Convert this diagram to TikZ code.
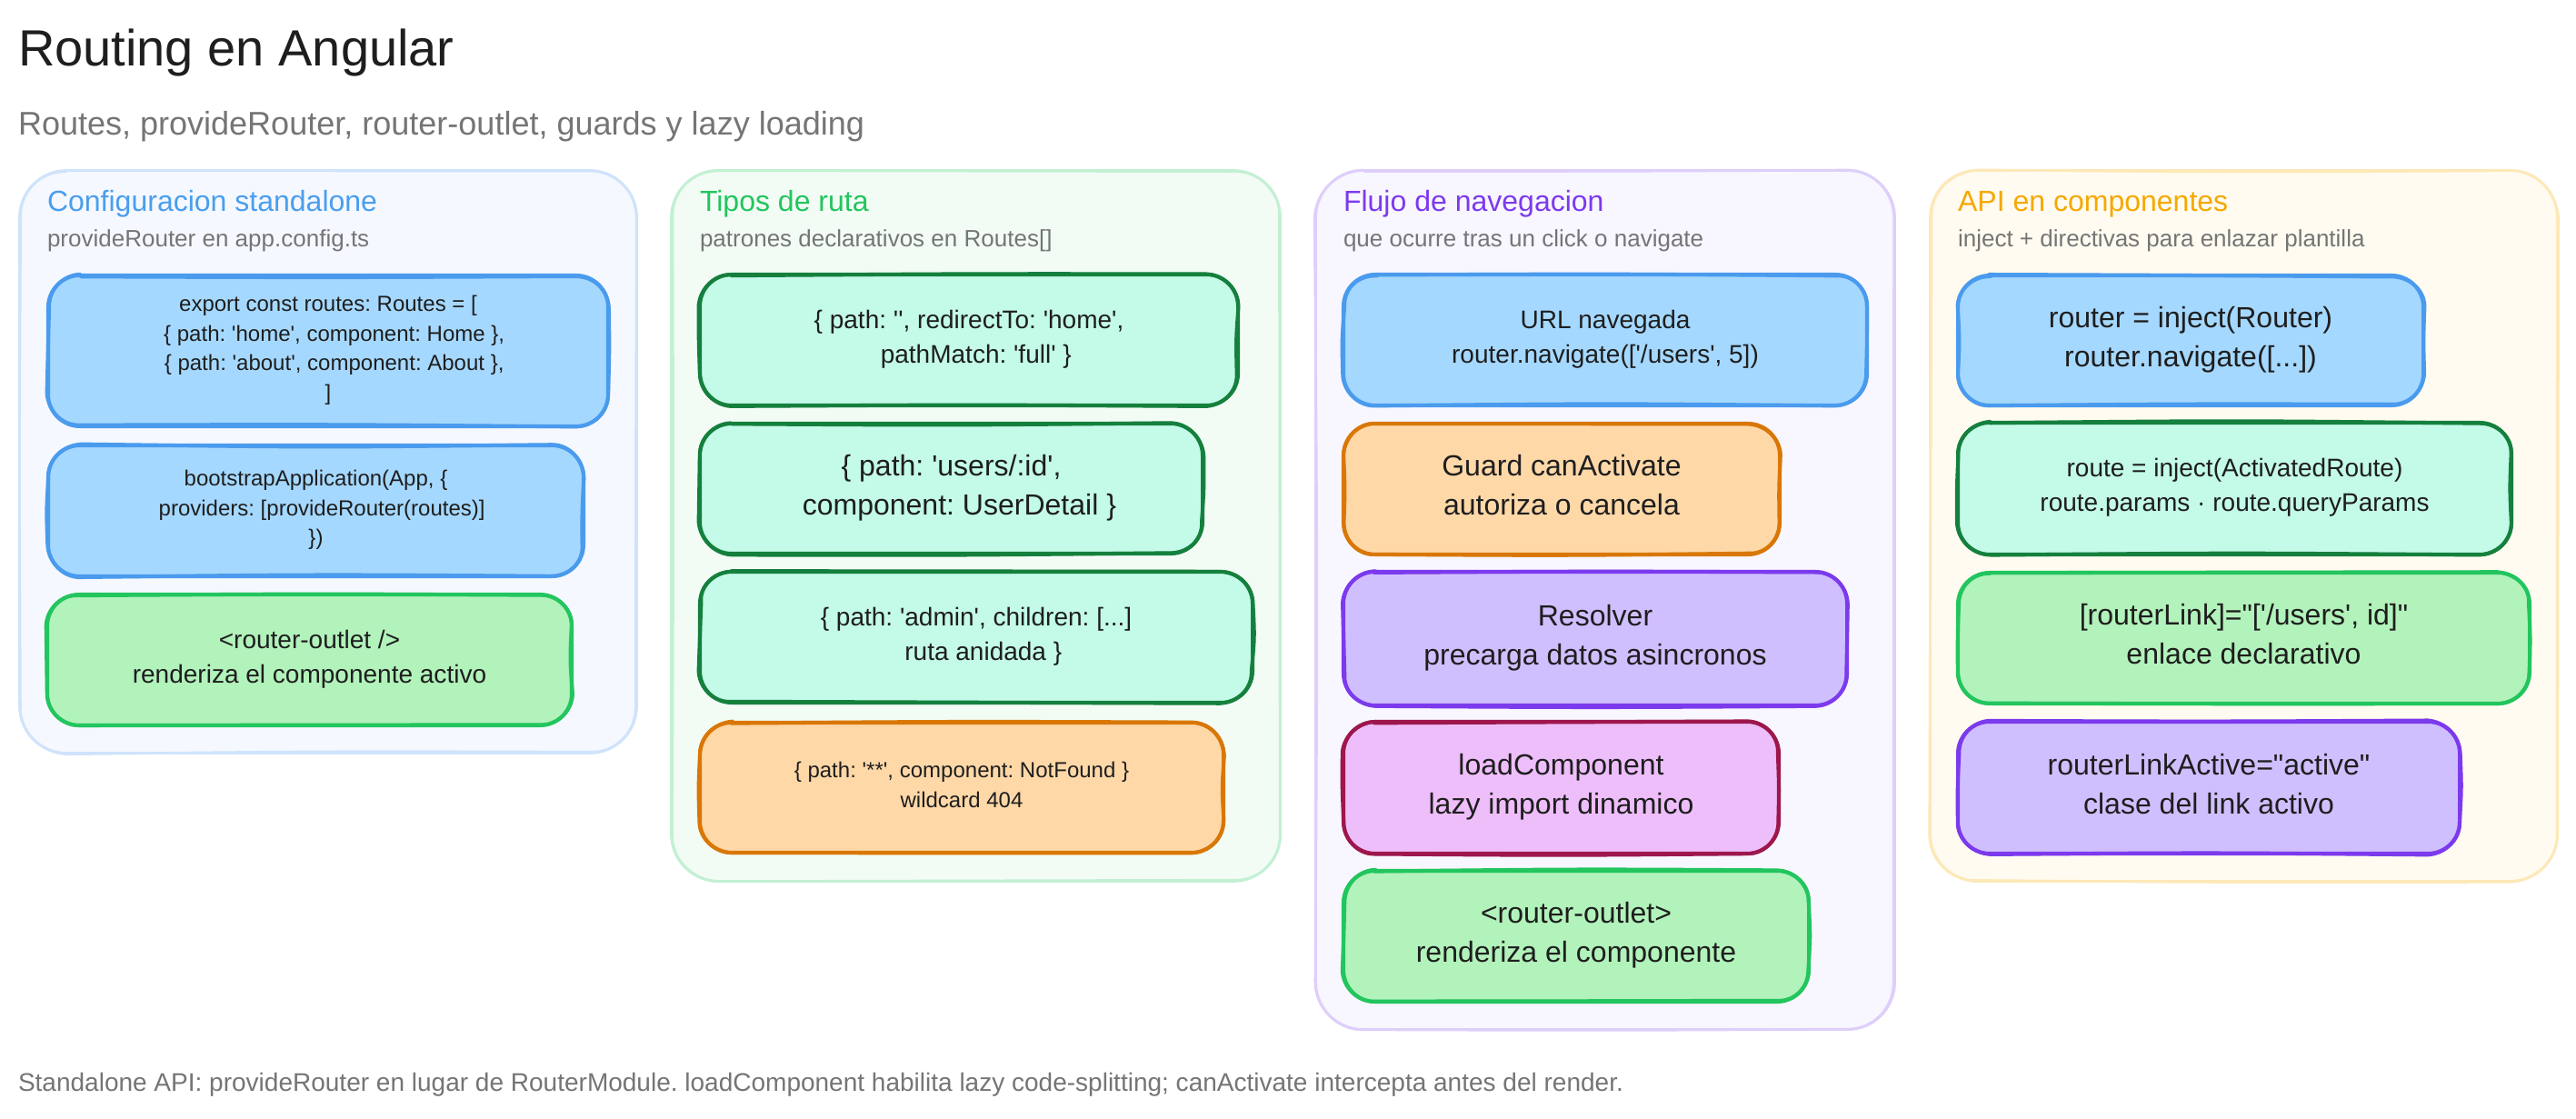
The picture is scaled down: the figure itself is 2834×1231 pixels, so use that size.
\documentclass[tikz,border=0pt]{standalone}
\usepackage{fontspec}
\newfontfamily\pf{Liberation Sans}
\frenchspacing
\definecolor{ink}{HTML}{1E1E1E}
\definecolor{mute}{HTML}{757575}
\definecolor{bluef}{HTML}{A5D8FF}\definecolor{blues}{HTML}{4A9BED}
\definecolor{tealf}{HTML}{C3FAE8}\definecolor{teals}{HTML}{15803D}
\definecolor{greenf}{HTML}{B2F2BB}\definecolor{greens}{HTML}{22C55E}
\definecolor{orangef}{HTML}{FFD8A8}\definecolor{oranges}{HTML}{D97706}
\definecolor{purplef}{HTML}{D0BFFF}\definecolor{purples}{HTML}{7C3AED}
\definecolor{pinkf}{HTML}{EEBEFA}\definecolor{pinks}{HTML}{9D174D}
\definecolor{pAf}{HTML}{F5F8FF}\definecolor{pAs}{HTML}{CFE3FB}
\definecolor{pBf}{HTML}{F2FCF5}\definecolor{pBs}{HTML}{C3F0D3}
\definecolor{pCf}{HTML}{F8F6FF}\definecolor{pCs}{HTML}{DECFFA}
\definecolor{pDf}{HTML}{FFFBF0}\definecolor{pDs}{HTML}{FDE8B8}
\definecolor{tA}{HTML}{4A9EED}\definecolor{tB}{HTML}{22C55E}
\definecolor{tC}{HTML}{7C3AED}\definecolor{tD}{HTML}{F5A800}
\newcommand\fz[1]{\pf\frenchspacing\fontsize{\fpeval{#1*0.28453}}{\fpeval{#1*0.38412}}\selectfont}
\newcommand\st{\rule[-.275em]{0pt}{1.35em}}
\newcommand\ind{\hspace*{.556em}}
\newcommand\amp{1.5}
\newcommand\rough[6]{%
 \draw[#6,line cap=round,line join=round]
 ({#1+#5+2*rand},{#2+\amp*rand}) .. controls ({(#1+#3)/2},{#2+1.6*\amp*rand}) ..
 ({#3-#5+2*rand},{#2+\amp*rand}) .. controls ({#3-0.45*#5},{#2+0.5*\amp*rand}) and ({#3+0.5*\amp*rand},{#2+0.45*#5}) ..
 ({#3+\amp*rand},{#2+#5+2*rand}) .. controls ({#3+1.6*\amp*rand},{(#2+#4)/2}) ..
 ({#3+\amp*rand},{#4-#5+2*rand}) .. controls ({#3+0.5*\amp*rand},{#4-0.45*#5}) and ({#3-0.45*#5},{#4+0.5*\amp*rand}) ..
 ({#3-#5+2*rand},{#4+\amp*rand}) .. controls ({(#1+#3)/2},{#4+1.6*\amp*rand}) ..
 ({#1+#5+2*rand},{#4+\amp*rand}) .. controls ({#1+0.45*#5},{#4+0.5*\amp*rand}) and ({#1+0.5*\amp*rand},{#4-0.45*#5}) ..
 ({#1+\amp*rand},{#4-#5+2*rand}) .. controls ({#1+1.6*\amp*rand},{(#2+#4)/2}) ..
 ({#1+\amp*rand},{#2+#5+2*rand}) .. controls ({#1+0.5*\amp*rand},{#2+0.45*#5}) and ({#1+0.45*#5},{#2+0.5*\amp*rand}) ..
 ({#1+#5+2*rand},{#2+\amp*rand});}
\newcommand\panel[6]{% name x0 y0 x1 y1 key
 \pgfmathsetmacro\w{(#4-#2-3)*0.01}\pgfmathsetmacro\h{(#5-#3-3)*0.01}
 \node[panelbox,fill=#6f,draw=#6s,minimum width=\w cm,minimum height=\h cm] (#1) at ({(#2+#4)/2},{(#3+#5)/2}) {};
 \rough{#2+1.5}{#3+1.5}{#4-1.5}{#5-1.5}{52}{draw=#6s,line width=.8pt}}
\newcommand\bx[8]{% name x0 y0 x1 y1 key fontpx text
 \pgfmathsetmacro\w{(#4-#2-4)*0.01}\pgfmathsetmacro\h{(#5-#3-4)*0.01}
 \node[skbox,fill=#6f,draw=#6s,minimum width=\w cm,minimum height=\h cm,font=\fz{#7}] (#1) at ({(#2+#4)/2},{(#3+#5)/2}) {#8};
 \rough{#2+2}{#3+2}{#4-2}{#5-2}{35}{draw=#6s,line width=1.15pt}}
\tikzset{
 panelbox/.style={rectangle,rounded corners=.52cm,line width=.8pt,inner sep=0pt,outer sep=0pt},
 skbox/.style={rectangle,rounded corners=.35cm,line width=1.15pt,inner sep=0pt,outer sep=0pt,text=ink,align=center,
   execute at begin node={\st},execute at end node={\st}},
 lab/.style={anchor=base west,inner sep=0pt,outer sep=0pt}
}
\begin{document}
\begin{tikzpicture}[x=0.01cm,y=-0.01cm]
\pgfmathsetseed{4242}
\useasboundingbox (0,0) rectangle (2834,1231);
\fill[white] (0,0) rectangle (2834,1231);
\node[lab,font=\fz{56},text=ink] (title) at (20,73) {Routing en Angular};
\node[lab,font=\fz{36},text=mute] (subtitle) at (20,148.5) {Routes, provideRouter, router-outlet, guards y lazy loading};
\node[lab,font=\fz{28},text=mute] (footer) at (20,1200) {Standalone API: provideRouter en lugar de RouterModule. loadComponent habilita lazy code-splitting; canActivate intercepta antes del render.};

% panel 1
\panel{pa}{20}{186}{702}{830}{pA}
\node[lab,font=\fz{32},text=tA] (pat) at (52,232.5) {Configuracion standalone};
\node[lab,font=\fz{26},text=mute] (pas) at (52,271.5) {provideRouter en app.config.ts};
\bx{a1}{51}{301}{671}{471}{blue}{24}{export const routes: Routes = [\\\ind\{ path: 'home', component: Home \},\\\ind\{ path: 'about', component: About \},\\]}
\bx{a2}{51}{488}{644}{636}{blue}{24}{bootstrapApplication(App, \{\\\ind providers: [provideRouter(routes)]\\\})}
\bx{a3}{50}{652}{631}{800}{green}{28}{<router-outlet />\\renderiza el componente activo}

% panel 2
\panel{pb}{737}{186}{1410}{971}{pB}
\node[lab,font=\fz{32},text=tB] (pbt) at (770,232.5) {Tipos de ruta};
\node[lab,font=\fz{26},text=mute] (pbs) at (770,271.5) {patrones declarativos en Routes[]};
\bx{b1}{768}{300}{1364}{448}{teal}{28}{\{ path: '', redirectTo: 'home',\\\ind pathMatch: 'full' \}}
\bx{b2}{768}{464}{1325}{611}{teal}{32}{\{ path: 'users/:id',\\\ind component: UserDetail \}}
\bx{b3}{768}{627}{1380}{775}{teal}{28}{\{ path: 'admin', children: [...]\\\ind ruta anidada \}}
\bx{b4}{768}{793}{1348}{940}{orange}{24}{\{ path: '**', component: NotFound \}\\wildcard 404}

% panel 3
\panel{pc}{1446}{186}{2086}{1134}{pC}
\node[lab,font=\fz{32},text=tC] (pct) at (1478,232.5) {Flujo de navegacion};
\node[lab,font=\fz{26},text=mute] (pcs) at (1478,271.5) {que ocurre tras un click o navigate};
\bx{c1}{1476}{300}{2056}{448}{blue}{28}{URL navegada\\router.navigate(['/users', 5])}
\bx{c2}{1476}{464}{1960}{612}{orange}{32}{Guard canActivate\\autoriza o cancela}
\bx{c3}{1476}{627}{2034}{778}{purple}{32}{Resolver\\precarga datos asincronos}
\bx{c4}{1476}{792}{1959}{941}{pink}{32}{loadComponent\\lazy import dinamico}
\bx{c5}{1476}{956}{1992}{1104}{green}{32}{<router-outlet>\\renderiza el componente}

% panel 4
\panel{pd}{2122}{186}{2815}{971}{pD}
\node[lab,font=\fz{32},text=tD] (pdt) at (2154,232.5) {API en componentes};
\node[lab,font=\fz{26},text=mute] (pds) at (2154,271.5) {inject + directivas para enlazar plantilla};
\bx{d1}{2152}{301}{2668}{448}{blue}{32}{router = inject(Router)\\router.navigate([...])}
\bx{d2}{2152}{463}{2765}{612}{teal}{28}{route = inject(ActivatedRoute)\\route.params · route.queryParams}
\bx{d3}{2152}{628}{2785}{776}{green}{32}{[routerLink]="['/users', id]"\\enlace declarativo}
\bx{d4}{2152}{792}{2708}{941}{purple}{32}{routerLinkActive="active"\\clase del link activo}
\end{tikzpicture}
\end{document}
